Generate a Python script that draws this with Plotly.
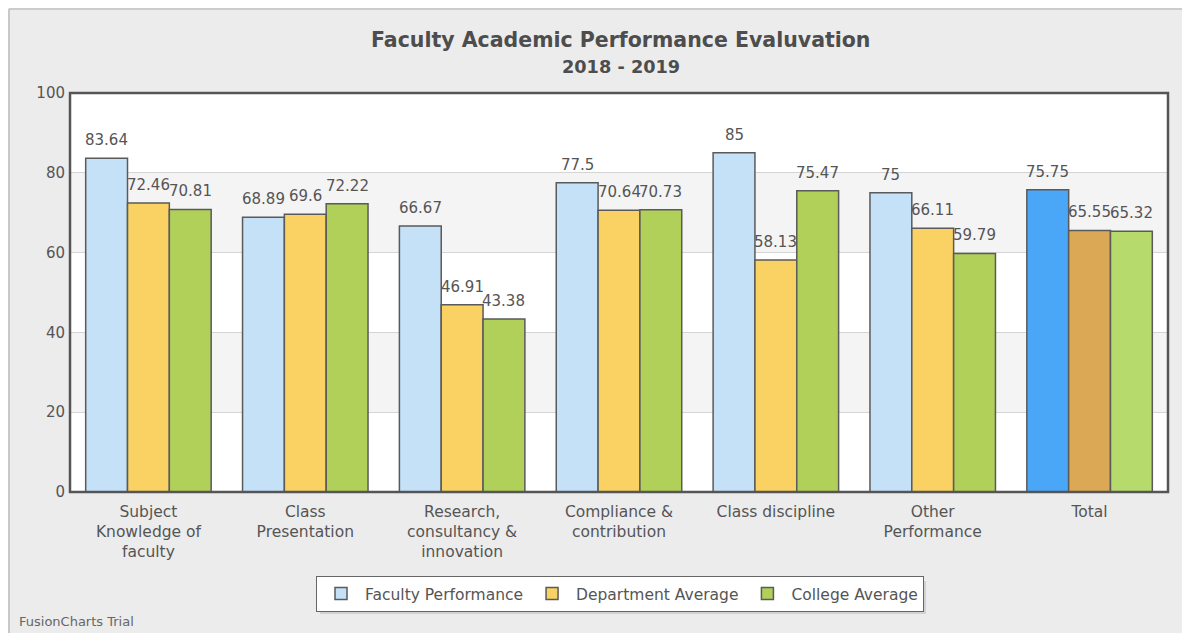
import plotly.graph_objects as go

categories = ["Subject<br>Knowledge of<br>faculty", "Class<br>Presentation",
              "Research,<br>consultancy &<br>innovation", "Compliance &<br>contribution",
              "Class discipline", "Other<br>Performance", "Total"]
faculty = [83.64, 68.89, 66.67, 77.5, 85, 75, 75.75]
department = [72.46, 69.6, 46.91, 70.64, 58.13, 66.11, 65.55]
college = [70.81, 72.22, 43.38, 70.73, 75.47, 59.79, 65.32]
series_names = ["Faculty Performance", "Department Average", "College Average"]

FONT = "DejaVu Sans"
TXT = "#555555"

W, H = 1182, 625          # page body has an 8px margin
ML, MR, MT, MB = 62, 22, 85, 141
PW, PH = W - ML - MR, H - MT - MB
BARGAP = 0.2

base_cols = ["#c4e1f8", "#f9d263", "#b0d05a"]
total_cols = ["#4aa6f6", "#dba856", "#b6da6c"]

fig = go.Figure()
all_vals = [faculty, department, college]
for name, vals, bc, tc in zip(series_names, all_vals, base_cols, total_cols):
    cols = [bc] * (len(vals) - 1) + [tc]
    fig.add_trace(go.Bar(
        x=categories, y=vals, name=name,
        marker=dict(color=cols, line=dict(color="#5a5a5a", width=1.5)),
        hoverinfo="x+y+name",
    ))

bar_w = PW / len(categories) * (1 - BARGAP) / 3
annotations = []
for i, vals in enumerate(all_vals):
    for c, v in zip(categories, vals):
        annotations.append(dict(
            x=c, y=v, xref="x", yref="y", text=f"{v:g}", showarrow=False,
            xshift=(i - 1) * bar_w, yanchor="bottom", yshift=7,
            font=dict(family=FONT, size=15, color=TXT)))

def px_x(px):
    return (px - 8 - ML) / PW

def px_y(py):
    return (MT + PH - (py - 8)) / PH

annotations += [
    dict(text="<b>Faculty Academic Performance Evaluvation</b>", xref="paper", yref="paper",
         x=px_x(620), y=px_y(40), xanchor="center", yanchor="middle", showarrow=False,
         font=dict(family=FONT, size=20.5, color="#4d4d4d")),
    dict(text="<b>2018 - 2019</b>", xref="paper", yref="paper",
         x=px_x(621), y=px_y(67), xanchor="center", yanchor="middle", showarrow=False,
         font=dict(family=FONT, size=17.7, color="#4d4d4d")),
    dict(text="FusionCharts Trial", xref="paper", yref="paper",
         x=px_x(17), y=px_y(621), xanchor="left", yanchor="middle", showarrow=False,
         font=dict(family=FONT, size=13, color="#666666")),
]

shapes = [
    dict(type="rect", xref="paper", yref="y", x0=0, x1=1, y0=20, y1=40,
         fillcolor="#f4f4f4", line=dict(width=0), layer="below"),
    dict(type="rect", xref="paper", yref="y", x0=0, x1=1, y0=60, y1=80,
         fillcolor="#f4f4f4", line=dict(width=0), layer="below"),
    dict(type="rect", xref="paper", yref="paper", x0=0, x1=1, y0=0, y1=1,
         line=dict(color="#555555", width=2.5), layer="above"),
    dict(type="line", xref="paper", yref="paper", x0=px_x(9), x1=px_x(1190), y0=px_y(9), y1=px_y(9),
         line=dict(color="#cccccc", width=2)),
    dict(type="line", xref="paper", yref="paper", x0=px_x(9), x1=px_x(9), y0=px_y(9), y1=px_y(633),
         line=dict(color="#c8c8c8", width=2)),
    # soft legend shadow
    dict(type="rect", xref="paper", yref="paper", x0=px_x(320), x1=px_x(926), y0=px_y(581), y1=px_y(614),
         fillcolor="#d2d2d2", line=dict(width=0), layer="below"),
]

fig.update_layout(
    width=W, height=H,
    margin=dict(l=ML, r=MR, t=MT, b=MB),
    paper_bgcolor="#ececec", plot_bgcolor="#ffffff",
    barmode="group", bargap=BARGAP, bargroupgap=0,
    font=dict(family=FONT, color=TXT, size=15),
    xaxis=dict(showgrid=False, ticks="", tickfont=dict(family=FONT, size=15.5, color=TXT),
               showline=False, zeroline=False, ticklabelstandoff=8),
    yaxis=dict(range=[0, 100], dtick=20, showgrid=True, gridcolor="#d4d4d4", gridwidth=1,
               zeroline=False, ticks="", tickfont=dict(family=FONT, size=15, color=TXT),
               ticklabelstandoff=4),
    legend=dict(orientation="h", x=px_x(620), xanchor="center", y=px_y(576), yanchor="top",
                bgcolor="#ffffff", bordercolor="#666666", borderwidth=1,
                font=dict(family=FONT, size=15.5, color=TXT), itemwidth=38),
    shapes=shapes,
    annotations=annotations,
)

fig.write_html("out.html")
